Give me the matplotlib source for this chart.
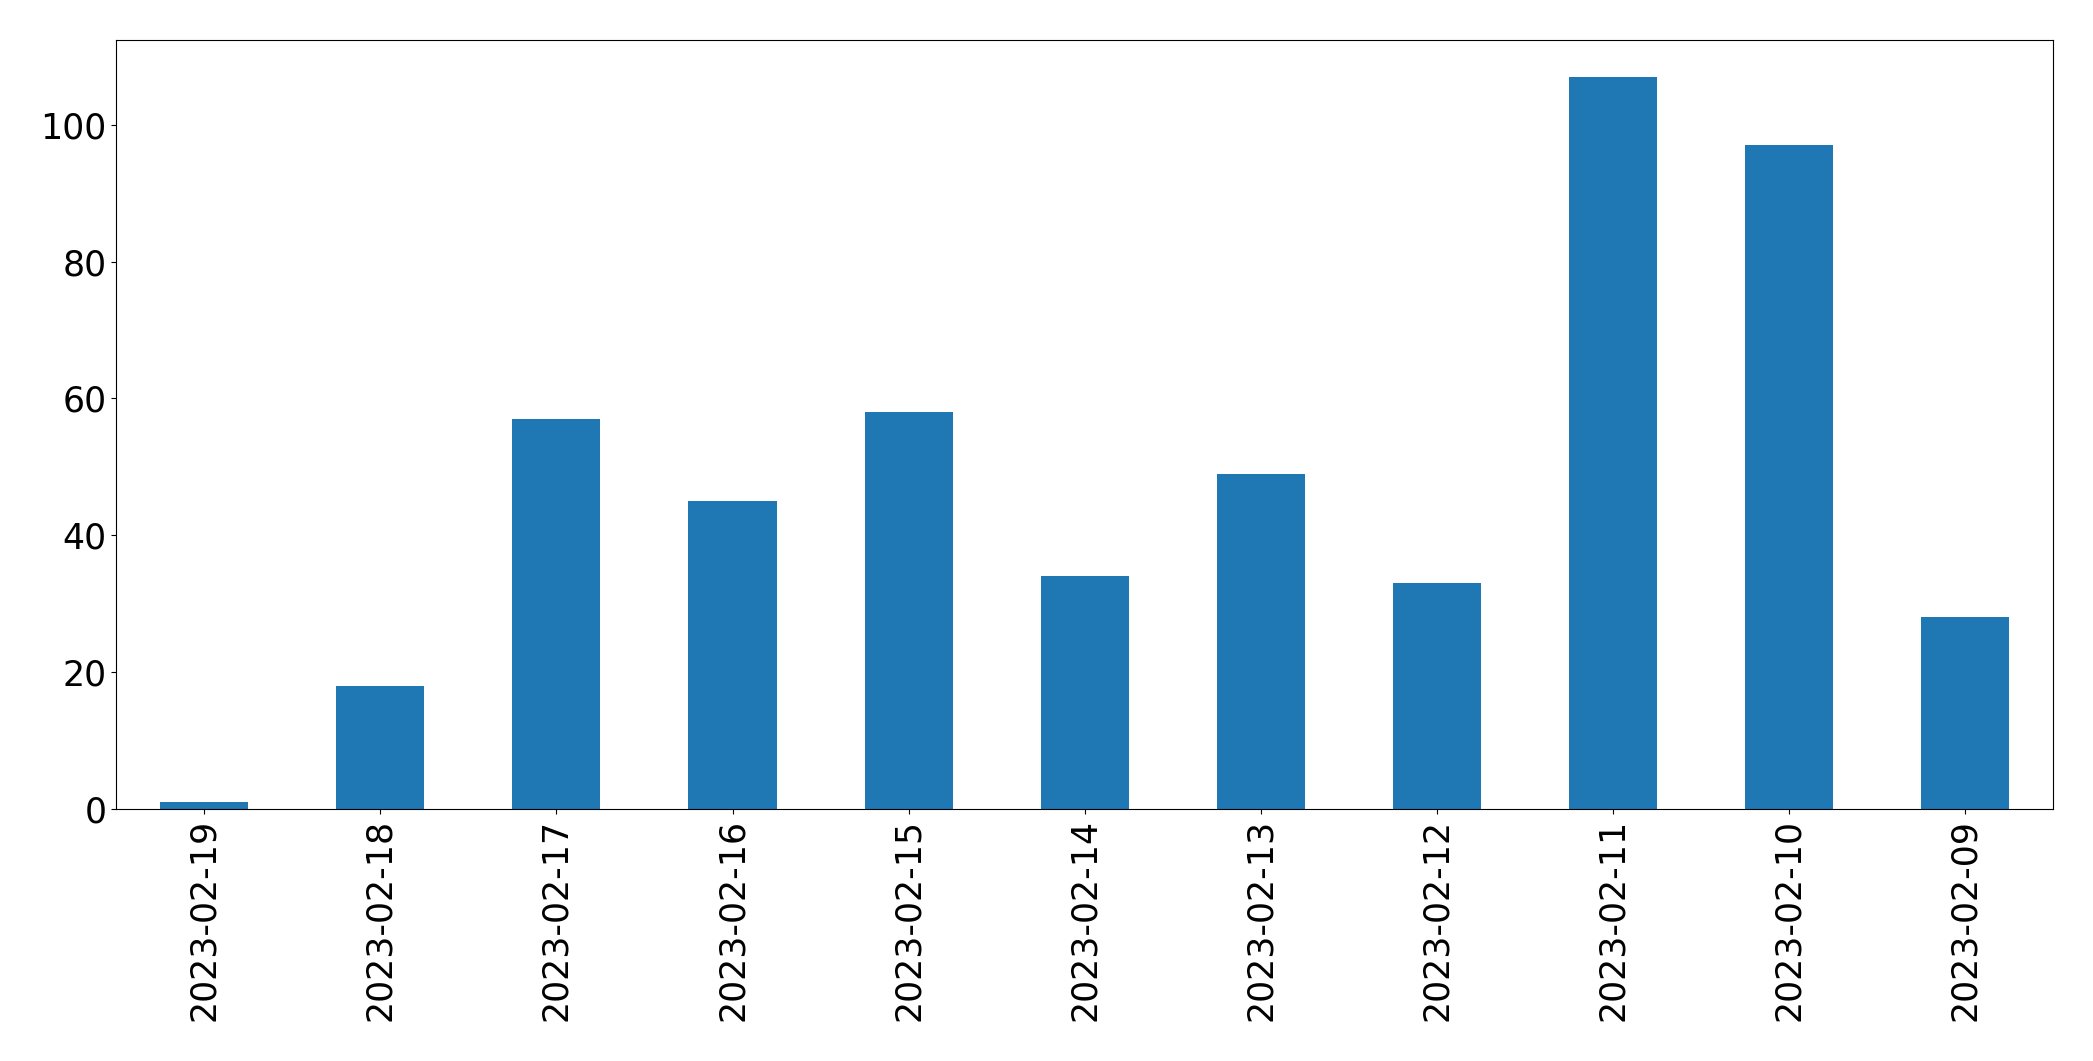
import numpy as np
import pandas as pd
import matplotlib
matplotlib.use("Agg")
import matplotlib.pyplot as plt

dates = ["2023-02-19", "2023-02-18", "2023-02-17", "2023-02-16", "2023-02-15",
         "2023-02-14", "2023-02-13", "2023-02-12", "2023-02-11", "2023-02-10",
         "2023-02-09"]
counts = [1, 18, 57, 45, 58, 34, 49, 33, 107, 97, 28]

s = pd.Series(counts, index=dates)

fig = plt.figure(figsize=(20.93, 10.61), dpi=100)
ax = fig.add_axes([0.0555, 0.2375, 0.9255, 0.7245])
s.plot(kind="bar", ax=ax, color="#1f77b4", width=0.5)
ax.tick_params(axis="both", labelsize=25)
plt.setp(ax.get_xticklabels(), rotation=90)
fig.savefig("out.png", dpi=100)
